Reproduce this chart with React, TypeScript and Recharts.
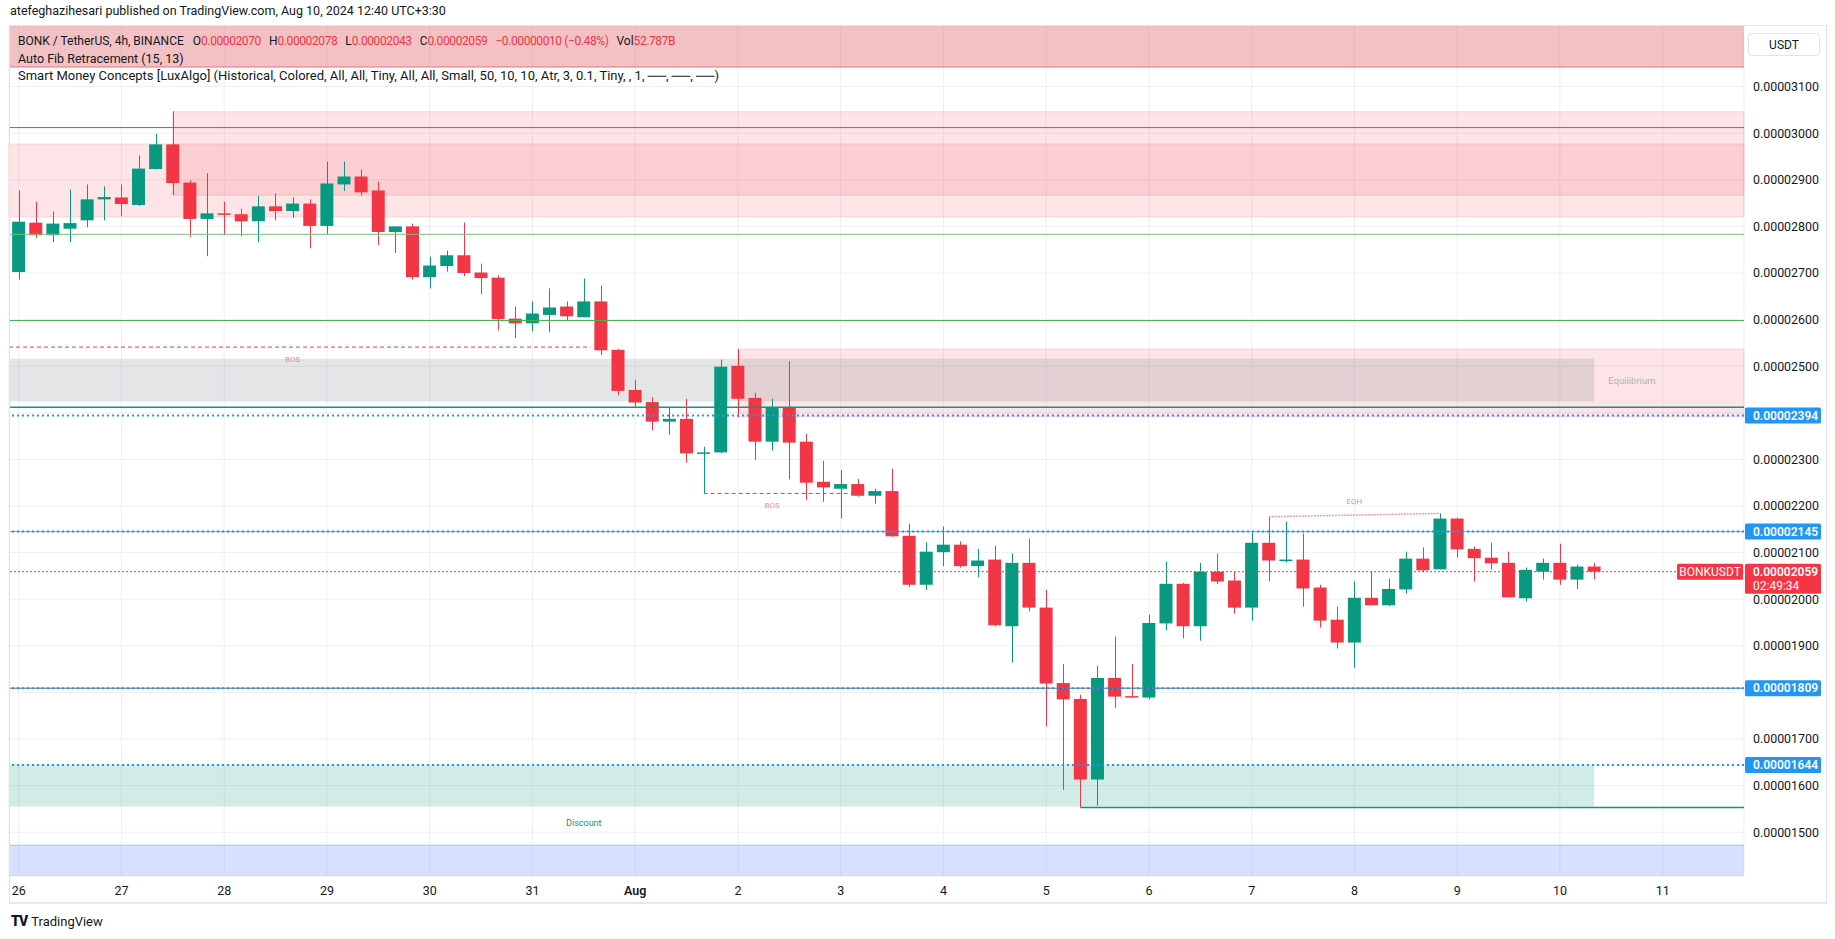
import React from "react";
import {
  ComposedChart,
  Bar,
  XAxis,
  YAxis,
  CartesianGrid,
  ReferenceArea,
  ReferenceLine,
  ReferenceDot,
} from "recharts";

// BONK/USDT 4h candles, prices in units of 1e-8 USDT (2070 = 0.00002070)
const opens = [
  2702, 2808, 2781, 2795, 2813, 2858, 2862, 2846, 2923, 2976, 2894, 2816, 2828, 2826, 2811, 2843,
  2833, 2849, 2801, 2890, 2907, 2877, 2788, 2800, 2691, 2715, 2738, 2701, 2690, 2602, 2592, 2610,
  2628, 2605, 2639, 2535, 2449, 2423, 2381, 2387, 2313, 2315, 2501, 2432, 2338, 2411, 2338, 2252,
  2237, 2247, 2222, 2232, 2136, 2031, 2101, 2117, 2071, 2085, 1942, 2078, 1982, 1820, 1786, 1613,
  1831, 1792, 1789, 1948, 2033, 1942, 2059, 2040, 1982, 2121, 2083, 2085, 2025, 1956, 1907, 2003,
  1987, 2021, 2087, 2064, 2173, 2108, 2089, 2078, 2002, 2059, 2078, 2042, 2070,
];
const highs = [
  2877, 2853, 2832, 2879, 2890, 2886, 2890, 2952, 2999, 3047, 2899, 2914, 2853, 2838, 2866, 2871,
  2862, 2858, 2939, 2939, 2922, 2896, 2800, 2806, 2735, 2748, 2808, 2720, 2695, 2628, 2639, 2667,
  2639, 2688, 2673, 2537, 2471, 2434, 2411, 2430, 2327, 2514, 2537, 2443, 2430, 2511, 2355, 2297,
  2277, 2258, 2237, 2280, 2162, 2122, 2156, 2124, 2108, 2115, 2098, 2130, 2020, 1861, 1795, 1857,
  1920, 1861, 1967, 2081, 2035, 2078, 2098, 2059, 2143, 2177, 2167, 2141, 2031, 1984, 2038, 2059,
  2044, 2102, 2111, 2184, 2175, 2113, 2121, 2102, 2068, 2087, 2119, 2074, 2078,
];
const lows = [
  2686, 2775, 2766, 2766, 2798, 2813, 2822, 2844, 2922, 2867, 2777, 2736, 2781, 2779, 2766, 2813,
  2818, 2753, 2783, 2876, 2866, 2760, 2743, 2686, 2667, 2703, 2693, 2655, 2577, 2560, 2575, 2573,
  2597, 2605, 2524, 2438, 2413, 2362, 2353, 2293, 2227, 2313, 2390, 2299, 2319, 2257, 2213, 2209,
  2173, 2220, 2205, 2134, 2026, 2020, 2071, 2068, 2047, 1942, 1864, 1974, 1727, 1591, 1553, 1557,
  1767, 1789, 1785, 1933, 1916, 1911, 2032, 1969, 1954, 2038, 2079, 1984, 1939, 1894, 1853, 1987,
  1985, 2012, 2058, 2064, 2089, 2038, 2064, 2004, 1995, 2042, 2031, 2022, 2043,
];
const closes = [
  2810, 2781, 2806, 2807, 2858, 2863, 2848, 2924, 2976, 2893, 2816, 2828, 2826, 2811, 2843, 2833,
  2849, 2801, 2892, 2907, 2873, 2788, 2800, 2691, 2716, 2738, 2700, 2689, 2601, 2592, 2613, 2626,
  2607, 2639, 2534, 2447, 2422, 2381, 2387, 2313, 2315, 2499, 2430, 2338, 2412, 2336, 2250, 2240,
  2247, 2222, 2232, 2135, 2031, 2102, 2117, 2071, 2083, 1944, 2078, 1982, 1819, 1785, 1613, 1831,
  1791, 1790, 1949, 2033, 1942, 2059, 2038, 1982, 2121, 2083, 2085, 2023, 1954, 1907, 2003, 1987,
  2022, 2087, 2062, 2173, 2107, 2088, 2077, 2004, 2063, 2078, 2042, 2070, 2059,
];

const dayLabels = ["26", "27", "28", "29", "30", "31", "Aug", "2", "3", "4", "5", "6", "7", "8", "9", "10", "11"];
const priceTicks = [1500, 1600, 1700, 1800, 1900, 2000, 2100, 2200, 2300, 2400, 2500, 2600, 2700, 2800, 2900, 3000, 3100];
// tick labels hidden behind the axis price tags
const hiddenTicks = [1800, 2400];

const candles = opens.map((o, i) => ({ i, o, h: highs[i], l: lows[i], c: closes[i] }));
const dayTicks = dayLabels.map((_, k) => k * 6);

const X_MIN = -0.566;
const X_MAX = 100.75;
const Y_MIN = 1406;
const Y_MAX = 3230;

const GREEN = "#089981";
const RED = "#F23645";
const BLUE = "#2196F3";
const FONT = "Roboto, 'Liberation Sans', sans-serif";

const fmt = (v: number) => (v / 1e8).toFixed(8);

function Candle(props: any) {
  const { x, y, width, height, payload } = props;
  if (!payload) return null;
  const top = height < 0 ? y + height : y;
  const span = Math.abs(height);
  const { o, h, l, c } = payload;
  const k = span / (h - l || 1);
  const py = (p: number) => top + (h - p) * k;
  const color = c >= o ? GREEN : RED;
  const bTop = py(Math.max(o, c));
  const bBot = py(Math.min(o, c));
  const cx = Math.round(x + width / 2) + 0.5;
  return (
    <g>
      <line x1={cx} x2={cx} y1={top} y2={top + span} stroke={color} strokeWidth={1} />
      <rect x={x} y={bTop} width={width} height={Math.max(1.5, bBot - bTop)} fill={color} />
    </g>
  );
}

function DayTick(props: any) {
  const { x, payload } = props;
  const idx = dayTicks.indexOf(payload.value);
  const label = dayLabels[idx] ?? "";
  return (
    <text x={x} y={890} textAnchor="middle" dominantBaseline="central" fontSize={12.5}
      fontFamily={FONT} fontWeight={label === "Aug" ? 600 : 400} fill="#131722">
      {label}
    </text>
  );
}

function PriceTick(props: any) {
  const { y, payload } = props;
  if (hiddenTicks.includes(payload.value)) return <g />;
  return (
    <text x={1753} y={y} dominantBaseline="central" fontSize={12.4} fontFamily={FONT} fill="#131722">
      {fmt(payload.value)}
    </text>
  );
}

const axisTag = (bg: string, text: string, sub?: string, side?: string) => (props: any) => {
  const vb = props.viewBox || {};
  const y = vb.y;
  const x = vb.x + vb.width + 1;
  return (
    <g>
      {side && (
        <g>
          <rect x={x - 68} y={y - 8} width={66} height={16} rx={1.5} fill={bg} />
          <text x={x - 35} y={y} textAnchor="middle" dominantBaseline="central" fill="#fff"
            fontSize={12} fontFamily={FONT}>{side}</text>
        </g>
      )}
      <rect x={x} y={y - 8} width={76} height={sub ? 30 : 16} rx={1.5} fill={bg} />
      <text x={x + 8} y={y} dominantBaseline="central" fill="#fff" fontSize={12}
        fontWeight={600} fontFamily={FONT}>{text}</text>
      {sub && (
        <text x={x + 8} y={y + 14} dominantBaseline="central" fill="#fff" fontSize={12}
          fontFamily={FONT}>{sub}</text>
      )}
    </g>
  );
};

const smallLabel = (value: string, fill: string, fontSize: number) => ({
  value,
  position: "center" as const,
  fill,
  fontSize,
  fontFamily: FONT,
});

const num = { color: RED, letterSpacing: -0.4 };

export default function App() {
  return (
    <div style={{ position: "absolute", left: 0, top: 0, width: 1835, height: 939, background: "#fff", fontFamily: FONT, overflow: "hidden" }}>
      <ComposedChart width={1835} height={939} data={candles}
        margin={{ top: 26, right: 0, bottom: 35, left: 9 }}>
        <CartesianGrid stroke="#EDEFF3" />
        <XAxis dataKey="i" type="number" domain={[X_MIN, X_MAX]} ticks={dayTicks} interval={0}
          allowDataOverflow axisLine={false} tickLine={false} height={28} tick={<DayTick />} />
        <YAxis orientation="right" type="number" domain={[Y_MIN, Y_MAX]} ticks={priceTicks} interval={0}
          allowDataOverflow axisLine={false} tickLine={false} width={91} tick={<PriceTick />} />

        {/* premium band at top */}
        <ReferenceArea x1={X_MIN} x2={X_MAX} y1={3142} y2={Y_MAX} fill="#D9525B" fillOpacity={0.36} stroke="none" />
        <ReferenceLine y={3142} stroke="#E0767C" strokeWidth={1} />
        {/* supply zones */}
        <ReferenceArea x1={X_MIN} x2={X_MAX} y1={2820} y2={2977} fill={RED} fillOpacity={0.13} stroke={RED} strokeOpacity={0.15} />
        <ReferenceArea x1={9} x2={X_MAX} y1={2867} y2={3046} fill={RED} fillOpacity={0.13} stroke={RED} strokeOpacity={0.15} />
        <ReferenceArea x1={42} x2={X_MAX} y1={2391} y2={2537} fill={RED} fillOpacity={0.13} stroke={RED} strokeOpacity={0.15} />
        {/* equilibrium / discount / bottom band */}
        <ReferenceArea x1={X_MIN} x2={92} y1={2424} y2={2516} fill="#787B86" fillOpacity={0.2} stroke="none" />
        <ReferenceArea x1={X_MIN} x2={92} y1={1555} y2={1645} fill={GREEN} fillOpacity={0.19} stroke="none" />
        <ReferenceArea x1={X_MIN} x2={X_MAX} y1={Y_MIN} y2={1472} fill="#2962FF" fillOpacity={0.19} stroke="none" />
        <ReferenceLine y={1472} stroke="#A9C1F7" strokeWidth={1} />

        {/* fib / structure lines */}
        <ReferenceLine y={3012} stroke="#E53B3B" strokeWidth={1} />
        <ReferenceLine y={2783} stroke="#77C17A" strokeWidth={1} />
        <ReferenceLine y={2598} stroke="#4CAF50" strokeWidth={1} />
        <ReferenceLine y={2412} stroke={GREEN} strokeWidth={1.5} />
        <ReferenceLine y={2394} stroke={BLUE} strokeWidth={2} strokeDasharray="2 3" label={axisTag(BLUE, "0.00002394")} />
        <ReferenceLine y={2145} stroke={BLUE} strokeWidth={1} strokeOpacity={0.8} />
        <ReferenceLine y={2145} stroke={BLUE} strokeWidth={2} strokeDasharray="2 3" label={axisTag(BLUE, "0.00002145")} />
        <ReferenceLine y={1809} stroke="#5D606B" strokeWidth={1} />
        <ReferenceLine y={1809} stroke={BLUE} strokeWidth={2} strokeDasharray="2 3" label={axisTag(BLUE, "0.00001809")} />
        <ReferenceLine y={1644} stroke={BLUE} strokeWidth={2} strokeDasharray="2 3" label={axisTag(BLUE, "0.00001644")} />
        <ReferenceLine segment={[{ x: 62, y: 1553 }, { x: X_MAX, y: 1553 }]} stroke={GREEN} strokeWidth={1.5} />

        <ReferenceLine segment={[{ x: X_MIN, y: 2541 }, { x: 33.4, y: 2541 }]} stroke={RED} strokeWidth={1} strokeDasharray="4 3" />
        <ReferenceLine segment={[{ x: 40, y: 2227 }, { x: 49, y: 2227 }]} stroke={RED} strokeWidth={1} strokeDasharray="4 3" />
        <ReferenceLine segment={[{ x: 73, y: 2177 }, { x: 83, y: 2184 }]} stroke="#F59AA1" strokeWidth={1.5} strokeDasharray="2 1" />

        <ReferenceDot x={16} y={2515} r={1} fill="none" stroke="none" label={smallLabel("BOS", "#F28B93", 8)} />
        <ReferenceDot x={44} y={2201} r={1} fill="none" stroke="none" label={smallLabel("BOS", "#F28B93", 8)} />
        <ReferenceDot x={78} y={2210} r={1} fill="none" stroke="none" label={smallLabel("EQH", "#F28B93", 8)} />
        <ReferenceDot x={94.2} y={2469} r={1} fill="none" stroke="none" label={smallLabel("Equilibrium", "#ADB0B8", 9.5)} />
        <ReferenceDot x={33} y={1520} r={1} fill="none" stroke="none" label={smallLabel("Discount", GREEN, 9)} />

        <Bar dataKey={(d: any) => [d.l, d.h]} barSize={13} shape={<Candle />} isAnimationActive={false} />

        <ReferenceLine y={2059} stroke={RED} strokeWidth={1} strokeDasharray="2 2"
          label={axisTag(RED, "0.00002059", "02:49:34", "BONKUSDT")} />
      </ComposedChart>

      {/* chart frame */}
      <div style={{ position: "absolute", left: 9, top: 25, width: 1816, height: 876, borderTop: "1px solid #E0E3EB", borderLeft: "1px solid #E0E3EB", borderRight: "1px solid #E0E3EB", borderBottom: "2px solid #E6E8EE", pointerEvents: "none" }} />

      <div style={{ position: "absolute", left: 10, top: 3, fontSize: 12.5, color: "#131722", lineHeight: "16px", whiteSpace: "nowrap" }}>
        atefeghazihesari published on TradingView.com, Aug 10, 2024 12:40 UTC+3:30
      </div>

      <div style={{ position: "absolute", left: 18, top: 33, color: "#131722", lineHeight: "17px", whiteSpace: "nowrap" }}>
        <div style={{ fontSize: 12 }}>
          <span style={{ marginRight: 9 }}>BONK / TetherUS, 4h, BINANCE</span>
          <span style={{ marginRight: 8 }}>O<span style={num}>0.00002070</span></span>
          <span style={{ marginRight: 8 }}>H<span style={num}>0.00002078</span></span>
          <span style={{ marginRight: 8 }}>L<span style={num}>0.00002043</span></span>
          <span style={{ marginRight: 8 }}>C<span style={num}>0.00002059</span></span>
          <span style={{ marginRight: 8, ...num }}>−0.00000010 (−0.48%)</span>
          <span>Vol<span style={num}>52.787B</span></span>
        </div>
        <div style={{ fontSize: 12.5 }}>Auto Fib Retracement (15, 13)</div>
        <div style={{ fontSize: 13 }}>Smart Money Concepts [LuxAlgo] (Historical, Colored, All, All, Tiny, All, All, Small, 50, 10, 10, Atr, 3, 0.1, Tiny, , 1, ──, ──, ──)</div>
      </div>

      <div style={{ position: "absolute", left: 1748, top: 33, width: 72, height: 23, border: "1px solid #E0E3EB", borderRadius: 4, boxSizing: "border-box", fontSize: 12, color: "#131722", display: "flex", alignItems: "center", justifyContent: "center" }}>
        USDT
      </div>

      <div style={{ position: "absolute", left: 11, top: 913, display: "flex", alignItems: "center", gap: 4, color: "#131722" }}>
        <span style={{ fontWeight: 900, fontSize: 14, letterSpacing: -1 }}>TV</span>
        <span style={{ fontSize: 13 }}>TradingView</span>
      </div>
    </div>
  );
}
